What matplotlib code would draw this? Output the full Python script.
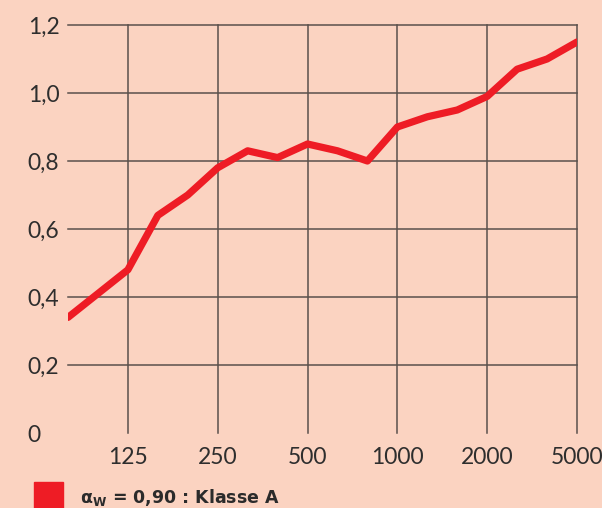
import numpy as np
import matplotlib
matplotlib.use("Agg")
import matplotlib.pyplot as plt

# Terzbänder (Hz) und Schallabsorptionsgrad
baender = ["80","100","125","160","200","250","315","400","500","630",
           "800","1000","1250","1600","2000","2500","3150","4000"]
alpha = [0.34,0.41,0.48,0.64,0.70,0.78,0.83,0.81,0.85,0.83,
         0.80,0.90,0.93,0.95,0.99,1.07,1.10,1.15]
x_ticks_idx = [2,5,8,11,14,17]
x_tick_labels = ["125","250","500","1000","2000","5000"]
y_ticks = [0,0.2,0.4,0.6,0.8,1.0,1.2]
y_tick_labels = ["0","0,2","0,4","0,6","0,8","1,0","1,2"]
legende = r"$\mathbf{\alpha_W}$ = 0,90 : Klasse A"

bg="#fbd3c1"
rot="#ee1c25"
plt.rcParams['font.family']=['Lato','DejaVu Sans']

fig=plt.figure(figsize=(6.02,5.08),dpi=100,facecolor=bg)
ax=fig.add_axes([68/602,75/508,509/602,408/508])
ax.set_facecolor(bg)

x=np.arange(len(baender))
ax.plot(x,alpha,color=rot,lw=5.2,solid_capstyle='round',solid_joinstyle='round',zorder=3)

ax.set_xlim(0,len(baender)-1)
ax.set_ylim(0,1.2)
ax.set_xticks(x_ticks_idx)
ax.set_xticklabels(x_tick_labels)
ax.set_yticks(y_ticks)
ax.set_yticklabels(y_tick_labels,ha='left')
ax.tick_params(axis='x',length=0,pad=10,labelsize=16.5,labelcolor='#2e2e2e')
ax.tick_params(axis='y',length=0,pad=29,labelsize=16.5,labelcolor='#2e2e2e')

ax.grid(True,color='#5a504c',lw=1.1,zorder=1)
ax.get_ygridlines()[0].set_visible(False)
for g in ax.get_xgridlines()+ax.get_ygridlines():
    g.set_clip_on(False)
for s in ax.spines.values():
    s.set_visible(False)

# Legende unten links
fig.patches.append(plt.Rectangle((34/602,-0.02),29/602,(508-482)/508+0.02,
                                 transform=fig.transFigure,color=rot))
fig.text(80/602,5/508,legende,fontsize=12.5,fontweight='bold',color='#2b2b2b',
         family='DejaVu Sans',va='baseline')

fig.savefig("out.png",dpi=100,facecolor=bg)
